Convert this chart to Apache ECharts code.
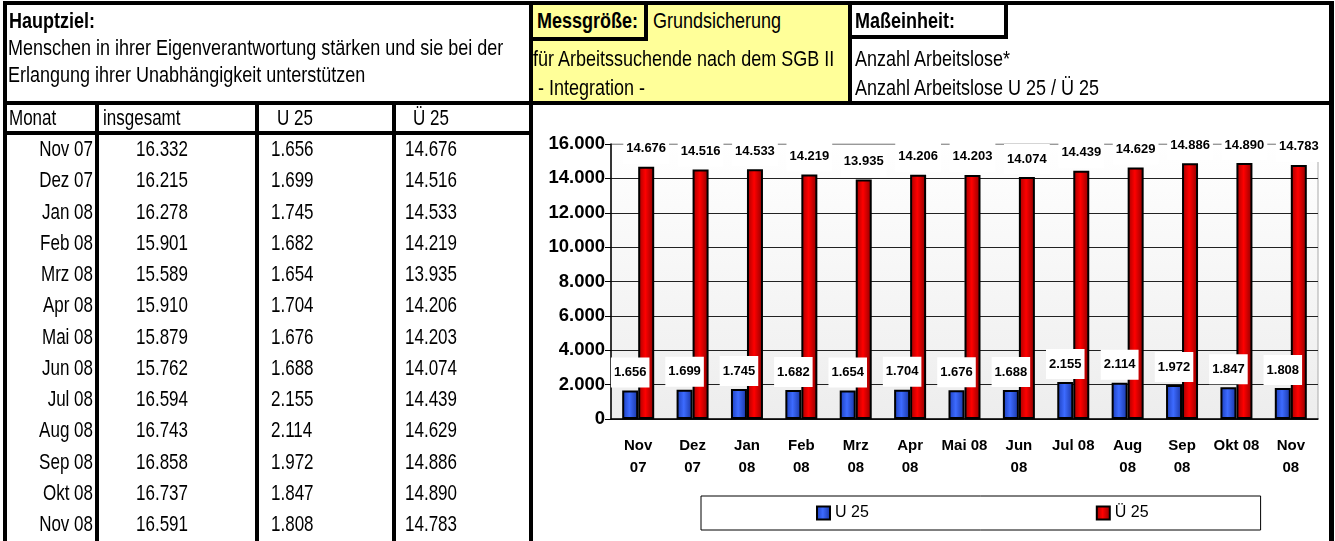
<!DOCTYPE html>
<html>
<head>
<meta charset="utf-8">
<title>Arbeitslose U 25 / Ü 25</title>
<script src="https://cdn.jsdelivr.net/npm/echarts@6/dist/echarts.min.js"></script>
<style>
body{margin:0;width:1335px;height:541px;overflow:hidden;background:#fff;font-family:'Liberation Sans',Arial,sans-serif;}
#main{position:absolute;left:0;top:0;width:1335px;height:541px;}
.ln{position:absolute;background:#000;z-index:3;}
.bg{position:absolute;z-index:1;}
.tx{position:absolute;line-height:20px;white-space:pre;color:#000;z-index:2;transform:scaleY(1.25);transform-origin:50% 50%;}
.b{font-weight:bold;}
</style>
</head>
<body>
<div id="main"></div>
<script type="text/javascript">
// Werte aus der Tabelle
var monate = ['Nov 07','Dez 07','Jan 08','Feb 08','Mrz 08','Apr 08','Mai 08','Jun 08','Jul 08','Aug 08','Sep 08','Okt 08','Nov 08'];
var insgesamt = [16332,16215,16278,15901,15589,15910,15879,15762,16594,16743,16858,16737,16591];
var u25 = [1656,1699,1745,1682,1654,1704,1676,1688,2155,2114,1972,1847,1808];
var ue25 = [14676,14516,14533,14219,13935,14206,14203,14074,14439,14629,14886,14890,14783];
// Achsenbeschriftung wie im Diagramm umbrochen
var achsenText = ['Nov\n07','Dez\n07','Jan\n08','Feb\n08','Mrz\n08','Apr\n08','Mai 08','Jun\n08','Jul 08','Aug\n08','Sep\n08','Okt 08','Nov\n08'];

function fmt(v){ return String(v).replace(/\B(?=(\d{3})+(?!\d))/g, '.'); }

function box(cls, l, t, w, h, bg){
  var d = document.createElement('div');
  d.className = cls;
  d.style.left = l+'px'; d.style.top = t+'px'; d.style.width = w+'px'; d.style.height = h+'px';
  if (bg) d.style.background = bg;
  document.body.appendChild(d);
}
function txt(s, l, cy, size, bold, right){
  var d = document.createElement('div');
  d.className = 'tx' + (bold ? ' b' : '');
  d.textContent = s;
  d.style.fontSize = size+'px';
  d.style.top = (cy-10)+'px';
  if (right) { d.style.right = (1335-l)+'px'; } else { d.style.left = l+'px'; }
  document.body.appendChild(d);
}

// Kopfbereich
box('bg', 533, 5, 315, 96, '#ffff99');
box('ln', 3, 1, 1331, 4);
box('ln', 3, 1, 4, 540);
box('ln', 1329, 1, 5, 540);
box('ln', 529, 1, 4, 540);
box('ln', 848, 1, 4, 104);
box('ln', 3, 101, 1331, 4);
box('ln', 644, 1, 4, 40);
box('ln', 529, 37, 119, 4);
box('ln', 1004, 1, 4, 37);
box('ln', 848, 35, 160, 4);
// Tabelle
box('ln', 3, 131, 530, 4);
box('ln', 95, 101, 4, 440);
box('ln', 255, 101, 4, 440);
box('ln', 392, 101, 4, 440);

txt('Hauptziel:', 9, 20, 18, true);
txt('Menschen in ihrer Eigenverantwortung stärken und sie bei der', 8, 47, 18);
txt('Erlangung ihrer Unabhängigkeit unterstützen', 8, 74, 18);
txt('Messgröße:', 537, 20, 18, true);
txt('Grundsicherung', 653, 20, 18);
txt('für Arbeitssuchende nach dem SGB II', 533, 58, 18);
txt(' - Integration -', 533, 87, 18);
txt('Maßeinheit:', 855, 20, 18, true);
txt('Anzahl Arbeitslose*', 855, 58, 18);
txt('Anzahl Arbeitslose U 25 / Ü 25', 855, 87, 18);

txt('Monat', 9, 119, 17);
txt('insgesamt', 103, 119, 17);
txt('U 25', 277, 119, 17);
txt('Ü 25', 413, 119, 17);
for (var i = 0; i < monate.length; i++) {
  var cy = 150 + 31.25*i;
  txt(monate[i], 93, cy, 17, false, true);
  txt(fmt(insgesamt[i]), 136, cy, 17);
  txt(fmt(u25[i]), 271, cy, 17);
  txt(fmt(ue25[i]), 405, cy, 17);
}

var myChart = echarts.init(document.getElementById('main'));
var schrift = 'Liberation Sans, Arial, sans-serif';
var blau = new echarts.graphic.LinearGradient(0,0,1,0,[{offset:0,color:'#1a3cb8'},{offset:0.45,color:'#3d6bff'},{offset:1,color:'#17339e'}]);
var rot = new echarts.graphic.LinearGradient(0,0,1,0,[{offset:0,color:'#a00000'},{offset:0.45,color:'#ff0000'},{offset:1,color:'#8a0000'}]);
var labelStil = {
  show: true, position: 'top', distance: 3,
  formatter: function(p){ return fmt(p.value); },
  fontFamily: schrift, fontWeight: 'bold', fontSize: 13, lineHeight: 16, color: '#000',
  backgroundColor: '#fff', padding: [7, 3]
};

var option = {
  animation: false,
  grid: {
    left: 611, top: 144, width: 707, height: 275, show: true,
    backgroundColor: new echarts.graphic.LinearGradient(0,0,0,1,[{offset:0,color:'#ffffff'},{offset:1,color:'#ededed'}]),
    borderWidth: 1, borderColor: '#aaa'
  },
  legend: {
    left: 701, top: 496,
    padding: [9, 112, 9, 115], itemGap: 227,
    itemWidth: 13, itemHeight: 13, icon: 'rect',
    backgroundColor: '#fff', borderColor: '#000', borderWidth: 1,
    textStyle: { fontFamily: schrift, fontSize: 16, color: '#000' },
    data: ['U 25', 'Ü 25']
  },
  xAxis: {
    type: 'category', data: achsenText,
    axisLine: { lineStyle: { color: '#000', width: 1.5 } },
    axisTick: { length: 6, lineStyle: { color: '#000' } },
    axisLabel: { interval: 0, fontFamily: schrift, fontWeight: 'bold', fontSize: 15, lineHeight: 22, margin: 16, color: '#000' }
  },
  yAxis: {
    type: 'value', min: 0, max: 16000, interval: 2000,
    axisLine: { show: true, lineStyle: { color: '#000', width: 1.5 } },
    axisTick: { show: true, length: 6, lineStyle: { color: '#000' } },
    axisLabel: { formatter: fmt, fontFamily: schrift, fontWeight: 'bold', fontSize: 18.5, margin: 6, color: '#000' },
    splitLine: { show: true, lineStyle: { color: ['#222','#222','#222','#222','#222','#222','#222','#222','#999'], width: 1 } }
  },
  series: [
    {
      name: 'U 25', type: 'bar', data: u25, barWidth: 16, barGap: '0%', z: 3,
      itemStyle: { color: blau, borderColor: '#000', borderWidth: 2 },
      label: labelStil
    },
    {
      name: 'Ü 25', type: 'bar', data: ue25, barWidth: 16, barGap: '0%',
      itemStyle: { color: rot, borderColor: '#000', borderWidth: 2 },
      label: labelStil
    }
  ]
};
myChart.setOption(option);
</script>
</body>
</html>
